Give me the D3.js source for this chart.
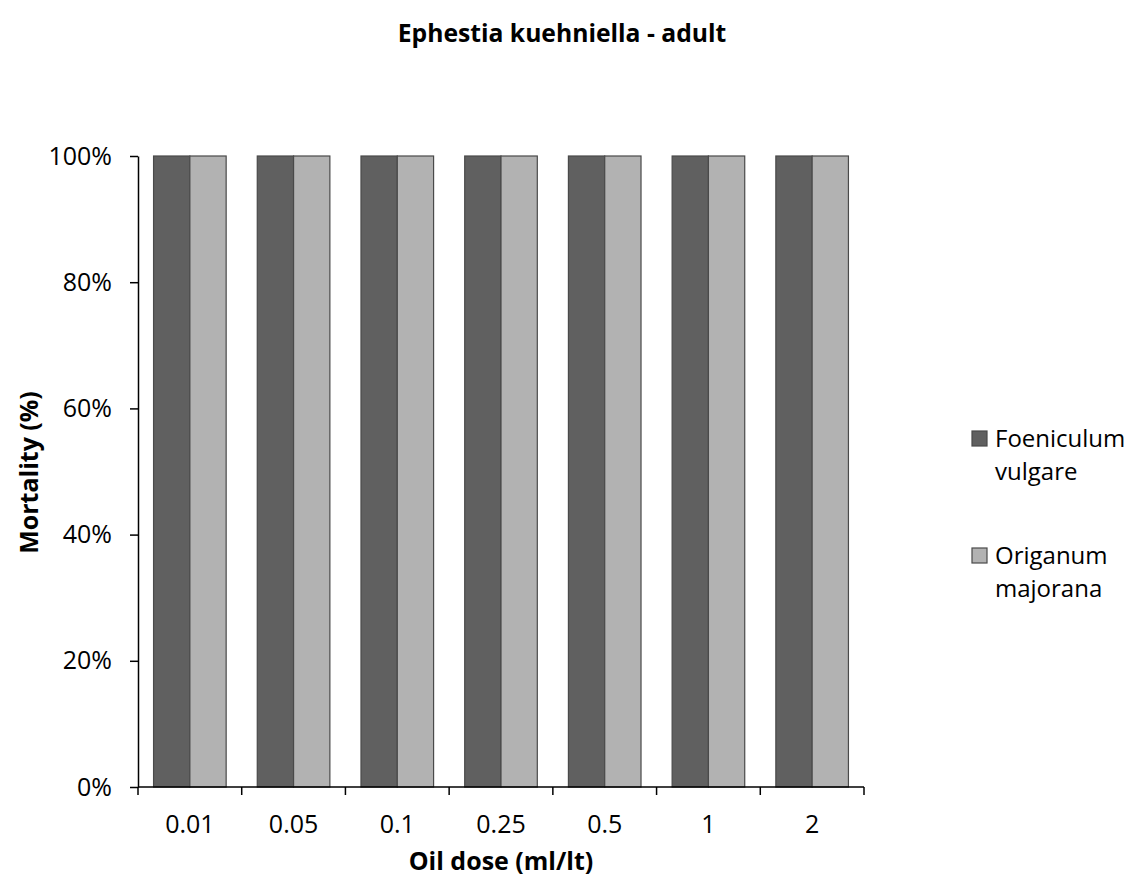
<!DOCTYPE html>
<html>
<head>
<meta charset="utf-8">
<script src="https://cdn.jsdelivr.net/npm/d3@7"></script>
<style>
  body { margin: 0; background: #fff; }
  text { font-family: "Open Sans", sans-serif; fill: #000; }
</style>
</head>
<body>
<div id="container"></div>
<script>
const doses = ["0.01", "0.05", "0.1", "0.25", "0.5", "1", "2"];
const series = ["Foeniculum vulgare", "Origanum majorana"];
const foeniculum = [100, 100, 100, 100, 100, 100, 100];
const origanum = [100, 100, 100, 100, 100, 100, 100];
const yTicks = [0, 20, 40, 60, 80, 100];
const colors = ["#606060", "#b2b2b2"];

const width = 1128, height = 879;
const plot = { left: 138, right: 864, top: 156, bottom: 787 };

const svg = d3.select("#container").append("svg")
  .attr("width", width)
  .attr("height", height);

const x = d3.scaleBand().domain(doses).range([plot.left, plot.right]).padding(0);
const bw = x.bandwidth();
const xInner = d3.scaleBand().domain(series).range([bw * 0.15, bw * 0.85]).padding(0);
const y = d3.scaleLinear().domain([0, 100]).range([plot.bottom, plot.top]);

const rows = doses.map((d, i) => ({ dose: d, values: [foeniculum[i], origanum[i]] }));

// bars
const groups = svg.append("g").selectAll("g")
  .data(rows)
  .join("g")
  .attr("transform", d => `translate(${x(d.dose)},0)`);

groups.selectAll("rect")
  .data(d => d.values.map((v, j) => ({ name: series[j], value: v, j })))
  .join("rect")
  .attr("x", d => xInner(d.name))
  .attr("y", d => y(d.value))
  .attr("width", xInner.bandwidth())
  .attr("height", d => y(0) - y(d.value))
  .attr("fill", d => colors[d.j])
  .attr("stroke", "#4a4a4a")
  .attr("stroke-width", 1.2);

// y axis
const yAxis = svg.append("g")
  .attr("transform", `translate(${plot.left},0)`)
  .call(d3.axisLeft(y).tickValues(yTicks).tickFormat(d => d + "%").tickSize(8).tickSizeOuter(0).tickPadding(18));
yAxis.select(".domain").attr("stroke", "#000").attr("stroke-width", 1.5);
yAxis.selectAll(".tick line").attr("stroke", "#000").attr("stroke-width", 1.5);
yAxis.selectAll("text").style("font-size", "25px").style("font-family", "Open Sans");

// x axis
const xTickPos = doses.map(d => x(d)).concat([plot.right]);
const xAxisG = svg.append("g");
xAxisG.append("line")
  .attr("x1", plot.left).attr("x2", plot.right)
  .attr("y1", plot.bottom).attr("y2", plot.bottom)
  .attr("stroke", "#000").attr("stroke-width", 1.5);
xAxisG.selectAll(".xt")
  .data(xTickPos)
  .join("line")
  .attr("class", "xt")
  .attr("x1", d => d).attr("x2", d => d)
  .attr("y1", plot.bottom).attr("y2", plot.bottom + 8)
  .attr("stroke", "#000").attr("stroke-width", 1.5);
xAxisG.selectAll(".xl")
  .data(doses)
  .join("text")
  .attr("class", "xl")
  .attr("x", d => x(d) + bw / 2)
  .attr("y", 833)
  .attr("text-anchor", "middle")
  .style("font-size", "25px")
  .text(d => d);

// titles
svg.append("text")
  .attr("x", 562).attr("y", 42)
  .attr("text-anchor", "middle")
  .style("font-size", "24.7px").style("font-weight", "bold")
  .text("Ephestia kuehniella - adult");

svg.append("text")
  .attr("x", 501).attr("y", 870)
  .attr("text-anchor", "middle")
  .style("font-size", "25px").style("font-weight", "bold")
  .text("Oil dose (ml/lt)");

svg.append("text")
  .attr("transform", `translate(38,${(plot.top + plot.bottom) / 2 + 1}) rotate(-90)`)
  .attr("text-anchor", "middle")
  .style("font-size", "25px").style("font-weight", "bold")
  .text("Mortality (%)");

// legend
const legendY = [447, 564];
const legend = svg.append("g").selectAll("g")
  .data(series)
  .join("g")
  .attr("transform", (d, i) => `translate(972,${legendY[i]})`);

legend.append("rect")
  .attr("x", 0).attr("y", -16)
  .attr("width", 15).attr("height", 15)
  .attr("fill", (d, i) => colors[i])
  .attr("stroke", "#4a4a4a")
  .attr("stroke-width", 1.2);

legend.append("text")
  .attr("x", 23).attr("y", 0)
  .style("font-size", "24px")
  .selectAll("tspan")
  .data(d => d.split(" "))
  .join("tspan")
  .attr("x", 23)
  .attr("dy", (d, i) => i === 0 ? 0 : 33)
  .text(d => d);
</script>
</body>
</html>
